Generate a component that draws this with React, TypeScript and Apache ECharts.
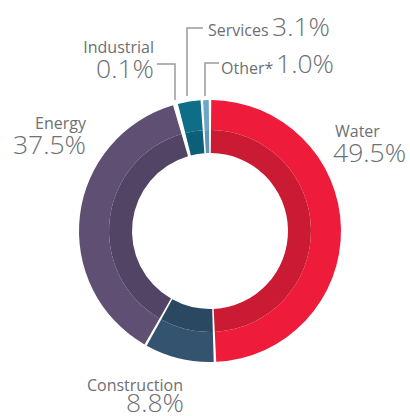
import React, { useEffect, useRef } from "react";
import * as echarts from "echarts";

const categories = ["Water", "Construction", "Energy", "Industrial", "Services", "Other*"];
const values = [49.5, 8.8, 37.5, 0.1, 3.1, 1.0];
const percentLabels = ["49.5%", "8.8%", "37.5%", "0.1%", "3.1%", "1.0%"];
const outerColors = ["#EE1C3A", "#33536F", "#5F4F73", "#5F4F73", "#0E6E87", "#6BA7C6"];
const innerColors = ["#CB1A33", "#2B4862", "#524465", "#524465", "#0C5F76", "#5E95B1"];

const TEXT = "#6D6F72";
const LINE = "#9B9B9B";
const FONT = "'Open Sans', sans-serif";

export default function App() {
  const ref = useRef<HTMLDivElement>(null);
  useEffect(() => {
    if (!ref.current) return;
    const chart = echarts.init(ref.current, null, { renderer: "svg" });
    const data = (colors: string[]) =>
      categories.map((c, i) => ({ name: c, value: values[i], itemStyle: { color: colors[i] } }));
    const name = (text: string, x: number, y: number, align: string) => ({
      type: "text",
      x,
      y,
      style: {
        text,
        fill: TEXT,
        font: `400 16px ${FONT}`,
        lineHeight: 16,
        textAlign: align,
        textVerticalAlign: "middle",
      },
    });
    const pct = (text: string, x: number, y: number, align: string) => ({
      type: "text",
      x,
      y,
      style: {
        text,
        fill: TEXT,
        font: `300 26.5px ${FONT}`,
        lineHeight: 20,
        textAlign: align,
        textVerticalAlign: "middle",
      },
    });
    const lineStyle = { stroke: LINE, lineWidth: 1.5, fill: "none" };
    chart.setOption({
      animation: false,
      series: [
        {
          type: "pie",
          center: [210, 231],
          radius: [101, 131],
          startAngle: 90,
          clockwise: true,
          padAngle: 1.1,
          label: { show: false },
          labelLine: { show: false },
          silent: true,
          data: data(outerColors),
        },
        {
          type: "pie",
          center: [210, 231],
          radius: [78, 101],
          startAngle: 90,
          clockwise: true,
          padAngle: 1.1,
          label: { show: false },
          labelLine: { show: false },
          silent: true,
          data: data(innerColors),
        },
      ],
      graphic: [
        name(categories[0], 335, 131, "left"),
        pct(percentLabels[0], 333, 152, "left"),
        name(categories[2], 86, 123, "right"),
        pct(percentLabels[2], 86, 144, "right"),
        name(categories[1], 183, 385, "right"),
        pct(percentLabels[1], 184, 402, "right"),
        name(categories[3], 154, 47, "right"),
        pct(percentLabels[3], 154, 68, "right"),
        name(categories[4], 208, 30, "left"),
        pct(percentLabels[4], 272, 26, "left"),
        name(categories[5], 221, 68, "left"),
        pct(percentLabels[5], 276, 63, "left"),
        { type: "polyline", shape: { points: [[157, 64], [175, 64], [175, 100]] }, style: lineStyle },
        { type: "polyline", shape: { points: [[203, 28], [187, 28], [187, 96]] }, style: lineStyle },
        { type: "polyline", shape: { points: [[219, 63], [205, 63], [205, 96]] }, style: lineStyle },
      ],
    });
    return () => chart.dispose();
  }, []);
  return <div ref={ref} style={{ width: 410, height: 416, position: "absolute", left: 0, top: 0 }} />;
}
